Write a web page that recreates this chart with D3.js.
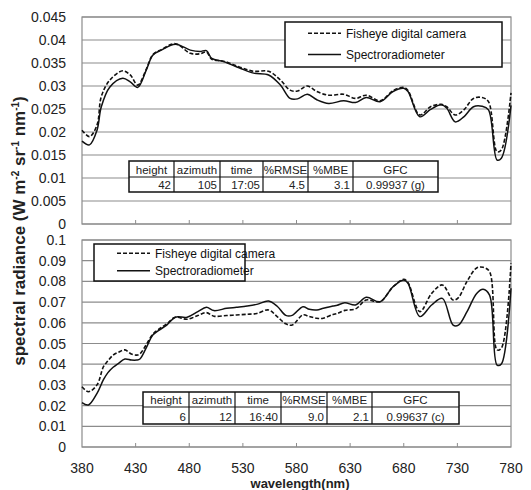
<!DOCTYPE html>
<html>
<head>
<meta charset="utf-8">
<script src="https://cdnjs.cloudflare.com/ajax/libs/d3/7.8.5/d3.min.js"></script>
<style>
body{margin:0;background:#fff;}
svg{font-family:'Liberation Sans',Arial,sans-serif;}
</style>
</head>
<body>
<div id="canvas"></div>
<script>
// wavelengths (nm) and radiance values
var wlTop = [380,387,394,398,406,418,425,432,440,446,454,467,481,490,496,501,512,527,540,554,565,574,581,590,599,610,624,635,645,658,670,680,684,695,705,715,720,728,736,745,753,759,767,771,780];
var camTop = [0.0204,0.0190,0.0215,0.0277,0.0313,0.0333,0.0324,0.0302,0.0337,0.0368,0.0379,0.0392,0.0371,0.0370,0.0374,0.0358,0.0354,0.0341,0.0332,0.0332,0.0313,0.0291,0.0289,0.0300,0.0288,0.0280,0.0282,0.0273,0.0280,0.0268,0.0290,0.0297,0.0290,0.0237,0.0255,0.0260,0.0255,0.0237,0.0248,0.0273,0.0275,0.0266,0.0157,0.0161,0.0285];
var specTop = [0.0180,0.0172,0.0204,0.0255,0.0298,0.0317,0.0309,0.0297,0.0335,0.0367,0.0378,0.0391,0.0378,0.0375,0.0377,0.0360,0.0353,0.0339,0.0328,0.0324,0.0302,0.0273,0.0272,0.0282,0.0270,0.0262,0.0268,0.0264,0.0275,0.0266,0.0288,0.0295,0.0288,0.0233,0.0249,0.0259,0.0252,0.0222,0.0233,0.0255,0.0256,0.0248,0.0139,0.0143,0.0258];

var wlBot = [380,386,394,400,404,409,414,420,426,431,434,440,446,452,459,467,478,488,496,503,515,524,534,543,554,562,570,576,586,592,599,605,614,618,625,635,645,658,670,680,684,695,706,716,726,731,739,748,754,760,767,771,780];
var camBot = [0.0291,0.0267,0.0300,0.0388,0.0415,0.0444,0.0458,0.0469,0.0449,0.0444,0.0450,0.0495,0.0545,0.0570,0.0595,0.0627,0.0617,0.0635,0.0649,0.0632,0.0635,0.0638,0.0641,0.0645,0.0662,0.0630,0.0595,0.0589,0.0638,0.0630,0.0622,0.0622,0.0640,0.0645,0.0660,0.0667,0.0710,0.0702,0.0774,0.0810,0.0794,0.0654,0.0742,0.0783,0.0710,0.0722,0.0800,0.0865,0.0868,0.0847,0.0469,0.0477,0.0887];
var specBot = [0.0214,0.0203,0.0259,0.0325,0.0358,0.0385,0.0404,0.0425,0.0420,0.0420,0.0425,0.0480,0.0541,0.0565,0.0589,0.0627,0.0627,0.0654,0.0675,0.0659,0.0670,0.0675,0.0681,0.0689,0.0705,0.0680,0.0636,0.0636,0.0678,0.0665,0.0662,0.0670,0.0681,0.0685,0.0697,0.0686,0.0723,0.0702,0.0774,0.0807,0.0791,0.0630,0.0686,0.0718,0.0589,0.0589,0.0654,0.0742,0.0762,0.0734,0.0396,0.0401,0.0767];

var xTicks = [380,430,480,530,580,630,680,730,780];
var yTicksTop = [0,0.005,0.01,0.015,0.02,0.025,0.03,0.035,0.04,0.045];
var yTicksBot = [0,0.01,0.02,0.03,0.04,0.05,0.06,0.07,0.08,0.09,0.1];

var seriesNames = ['Fisheye digital camera','Spectroradiometer'];
var tableHeader = ['height','azimuth','time','%RMSE','%MBE','GFC'];
var tableTop = ['42','105','17:05','4.5','3.1','0.99937 (g)'];
var tableBot = ['6','12','16:40','9.0','2.1','0.99637 (c)'];

var W = 531, H = 490;
var svg = d3.select('#canvas').append('svg').attr('width',W).attr('height',H);

var x = d3.scaleLinear().domain([380,780]).range([82,511]);

var panels = [
    {wl:wlTop, cam:camTop, spec:specTop, ticks:yTicksTop, max:0.045, top:17, bottom:224, fmt:d3.format('.3~f'),
     legend:{x:285,y:22,w:217,h:45}, table:{cols:[129,174,220,263,308,353,438], rows:[161,177,192], row:tableTop}},
    {wl:wlBot, cam:camBot, spec:specBot, ticks:yTicksBot, max:0.1, top:240, bottom:447, fmt:d3.format('.2~f'),
     legend:{x:94,y:244,w:151,h:37}, table:{cols:[143,189,235,281,327,372,459], rows:[392,407,424], row:tableBot}}
];

panels.forEach(function(p, i){
    var y = d3.scaleLinear().domain([0,p.max]).range([p.bottom,p.top]);
    var g = svg.append('g');

    // grid
    g.selectAll('.grid').data(p.ticks).enter().append('line')
        .attr('x1',82).attr('x2',511)
        .attr('y1',function(d){return y(d)}).attr('y2',function(d){return y(d)})
        .style('stroke','#8c8c8c').style('stroke-width',1.2);
    g.append('rect').attr('x',82).attr('y',p.top).attr('width',429).attr('height',p.bottom-p.top)
        .style('fill','none').style('stroke','#8c8c8c').style('stroke-width',1.2);

    // inner tick marks at bottom
    g.selectAll('.xt').data(xTicks.slice(1,-1)).enter().append('line')
        .attr('x1',function(d){return x(d)}).attr('x2',function(d){return x(d)})
        .attr('y1',p.bottom).attr('y2',p.bottom-4)
        .style('stroke','#8c8c8c').style('stroke-width',1);

    // y labels
    g.selectAll('.yl').data(p.ticks).enter().append('text')
        .attr('x',66).attr('y',function(d){return y(d)+5})
        .attr('text-anchor','end').style('font-size','14px').style('fill','#222')
        .text(function(d){return p.fmt(d)});

    // lines
    var line = function(vals){
        return d3.line()
            .x(function(d,j){return x(p.wl[j])})
            .y(function(d){return y(d)})
            .curve(d3.curveCatmullRom.alpha(0.5))(vals);
    };
    g.append('path').attr('d',line(p.spec))
        .style('fill','none').style('stroke','#111').style('stroke-width',1.5);
    g.append('path').attr('d',line(p.cam))
        .style('fill','none').style('stroke','#111').style('stroke-width',1.6)
        .style('stroke-dasharray','4,2');

    // legend
    var L = p.legend;
    g.append('rect').attr('x',L.x).attr('y',L.y).attr('width',L.w).attr('height',L.h)
        .style('fill','#fff').style('stroke','#111').style('stroke-width',1.5);
    var ly = [L.y + L.h*0.25, L.y + L.h*0.72];
    seriesNames.forEach(function(name,k){
        g.append('line').attr('x1',L.x+23).attr('x2',L.x+56).attr('y1',ly[k]).attr('y2',ly[k])
            .style('stroke','#111').style('stroke-width',1.5)
            .style('stroke-dasharray',k==0?'4,2':null);
        g.append('text').attr('x',L.x+61).attr('y',ly[k]+4.5)
            .style('font-size','12px').style('fill','#111').text(name);
    });

    // table
    var T = p.table;
    g.append('rect').attr('x',T.cols[0]).attr('y',T.rows[0])
        .attr('width',T.cols[6]-T.cols[0]).attr('height',T.rows[2]-T.rows[0])
        .style('fill','#fff').style('stroke','#111').style('stroke-width',1.5);
    g.append('line').attr('x1',T.cols[0]).attr('x2',T.cols[6]).attr('y1',T.rows[1]).attr('y2',T.rows[1])
        .style('stroke','#111').style('stroke-width',1.2);
    T.cols.slice(1,-1).forEach(function(c){
        g.append('line').attr('x1',c).attr('x2',c).attr('y1',T.rows[0]).attr('y2',T.rows[2])
            .style('stroke','#111').style('stroke-width',1.2);
    });
    tableHeader.forEach(function(h,k){
        g.append('text').attr('x',(T.cols[k]+T.cols[k+1])/2).attr('y',T.rows[1]-3.5)
            .attr('text-anchor','middle').style('font-size','11.5px').style('fill','#222').text(h);
        var last = k==5;
        g.append('text').attr('x',last?(T.cols[k]+T.cols[k+1])/2:T.cols[k+1]-3).attr('y',T.rows[2]-3.5)
            .attr('text-anchor',last?'middle':'end').style('font-size','11.5px').style('fill','#222').text(T.row[k]);
    });
});

// x labels
svg.selectAll('.xl').data(xTicks).enter().append('text')
    .attr('x',function(d){return x(d)}).attr('y',473)
    .attr('text-anchor','middle').style('font-size','14px').style('fill','#222')
    .text(function(d){return d});

svg.append('text').attr('x',300).attr('y',488).attr('text-anchor','middle')
    .style('font-size','13px').style('font-weight','bold').style('fill','#222').text('wavelength(nm)');

// y title
var yt = svg.append('text').attr('transform','translate(25,231) rotate(-90)')
    .attr('text-anchor','middle').style('font-size','17px').style('font-weight','bold').style('fill','#222');
yt.append('tspan').text('spectral radiance (W m');
yt.append('tspan').attr('dy',-6).style('font-size','10px').text('-2');
yt.append('tspan').attr('dy',6).text(' sr');
yt.append('tspan').attr('dy',-6).style('font-size','10px').text('-1');
yt.append('tspan').attr('dy',6).text(' nm');
yt.append('tspan').attr('dy',-6).style('font-size','10px').text('-1');
yt.append('tspan').attr('dy',6).text(')');
</script>
</body>
</html>
